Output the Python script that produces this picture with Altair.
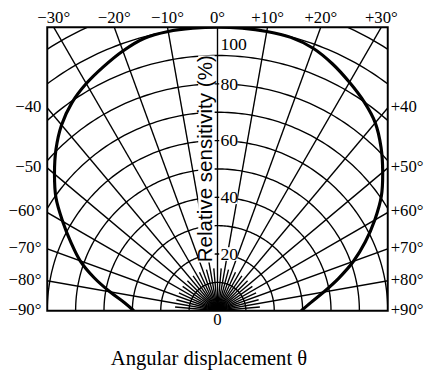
import math
import altair as alt
import pandas as pd

# ---- data ----
angle_deg = [0, 5, 10, 15, 20, 25, 30, 35, 40, 45, 50, 55, 60, 65, 70, 75, 80, 85, 90]
sens_right = [100, 100, 100, 99.8, 98.5, 96, 93, 90, 86.5, 81.5, 76, 70.5, 64, 57.5, 51, 44.2, 38, 33, 29.5]
sens_left = [100, 100, 100, 99.5, 97.5, 95, 92.5, 89.5, 85.5, 80.5, 75, 69.5, 63, 57, 51.5, 45, 38.5, 33, 29.5]

circle_radii = [10, 20, 30, 40, 50, 60, 70, 80, 90, 100, 110]
spoke_angles = list(range(-90, 91, 10))
minor_spoke_angles = list(range(-85, 90, 10))

top_angles = [-30, -20, -10, 0, 10, 20, 30]
top_text = ["−30°", "−20°", "−10°", "0°", "+10°", "+20°", "+30°"]
left_angles = [40, 50, 60, 70, 80, 90]
left_text = ["−40", "−50", "−60°", "−70°", "−80°", "−90°"]
right_text = ["+40", "+50°", "+60°", "+70°", "+80°", "+90°"]

inner_vals = [20, 40, 60, 80, 100]
inner_pos = [20, 40, 60, 80, 94]
inner_text = ["20", "40", "60", "80", "100"]

XMAX = 60
YMAX = 100

# ---- build tables ----
rows = []
gid = 0
for r in circle_radii:
    for i, a in enumerate(range(-90, 91)):
        t = math.radians(a)
        rows.append({"g": gid, "o": i, "x": r * math.sin(t), "y": r * math.cos(t)})
    gid += 1
for a in spoke_angles:
    t = math.radians(a)
    for i, r in enumerate([0, 140]):
        rows.append({"g": gid, "o": i, "x": r * math.sin(t), "y": r * math.cos(t)})
    gid += 1
for a in minor_spoke_angles:
    t = math.radians(a)
    for i, r in enumerate([0, 15]):
        rows.append({"g": gid, "o": i, "x": r * math.sin(t), "y": r * math.cos(t)})
    gid += 1
grid = pd.DataFrame(rows)

crow = []
k = 0
for a, s in zip(reversed(angle_deg), reversed(sens_left)):
    t = math.radians(-a)
    crow.append({"o": k, "x": s * math.sin(t), "y": s * math.cos(t)})
    k += 1
for a, s in zip(angle_deg[1:], sens_right[1:]):
    t = math.radians(a)
    crow.append({"o": k, "x": s * math.sin(t), "y": s * math.cos(t)})
    k += 1
curve = pd.DataFrame(crow)

top_df = pd.DataFrame({"x": [YMAX * math.tan(math.radians(a)) for a in top_angles],
                       "y": [YMAX] * len(top_angles), "t": top_text})
left_df = pd.DataFrame({"x": [-XMAX] * len(left_angles),
                        "y": [XMAX / math.tan(math.radians(a)) for a in left_angles],
                        "t": left_text})
right_df = pd.DataFrame({"x": [XMAX] * len(left_angles),
                         "y": [XMAX / math.tan(math.radians(a)) for a in left_angles],
                         "t": right_text})
inner_df = pd.DataFrame({"x": [0] * len(inner_vals), "y": inner_pos, "t": inner_text})
box_df = pd.DataFrame({"x": [0.6] * 4, "x2": [7.0] * 4,
                       "y": [v - 2.4 for v in inner_vals[:4]],
                       "y2": [v + 2.4 for v in inner_vals[:4]]})
zero_df = pd.DataFrame({"x": [0], "y": [0], "t": ["0"]})
ytitle_df = pd.DataFrame({"x": [-4.0], "y": [53.6], "t": ["Relative sensitivity (%)"]})
ytbox_df = pd.DataFrame({"x": [-6.8], "x2": [-1.0], "y": [17.0], "y2": [90.0]})
xtitle_df = pd.DataFrame({"x": [-3.0], "y": [-17.0], "t": ["Angular displacement θ"]})

xs = alt.Scale(domain=[-XMAX, XMAX], nice=False, zero=False)
ys = alt.Scale(domain=[0, YMAX], nice=False, zero=False)
X = alt.X("x:Q", scale=xs, axis=None)
Y = alt.Y("y:Q", scale=ys, axis=None)

serif = "Liberation Serif"

grid_layer = alt.Chart(grid).mark_line(color="black", strokeWidth=1.4, clip=True).encode(
    x=X, y=Y, detail="g:N", order="o:Q")
curve_layer = alt.Chart(curve).mark_line(color="black", strokeWidth=3.2, clip=True,
                                         interpolate="catmull-rom").encode(
    x=X, y=Y, order="o:Q")
box_layer = alt.Chart(box_df).mark_rect(color="white").encode(
    x=X, x2="x2:Q", y=Y, y2="y2:Q")
ytbox_layer = alt.Chart(ytbox_df).mark_rect(color="white").encode(
    x=X, x2="x2:Q", y=Y, y2="y2:Q")
inner_layer = alt.Chart(inner_df).mark_text(font=serif, fontSize=18, align="left",
                                            baseline="middle", dx=3, dy=1, color="black").encode(
    x=X, y=Y, text="t:N")
top_layer = alt.Chart(top_df).mark_text(font=serif, fontSize=17, align="center",
                                        baseline="bottom", dy=0, color="black").encode(
    x=X, y=Y, text="t:N")
left_layer = alt.Chart(left_df).mark_text(font=serif, fontSize=17, align="right",
                                          baseline="middle", dx=-6, dy=-1, color="black").encode(
    x=X, y=Y, text="t:N")
right_layer = alt.Chart(right_df).mark_text(font=serif, fontSize=17, align="left",
                                            baseline="middle", dx=3, dy=-1, color="black").encode(
    x=X, y=Y, text="t:N")
zero_layer = alt.Chart(zero_df).mark_text(font=serif, fontSize=17, align="center",
                                          baseline="top", dy=2, color="black").encode(
    x=X, y=Y, text="t:N")
ytitle_layer = alt.Chart(ytitle_df).mark_text(font="Liberation Sans", fontSize=21, angle=270,
                                              align="center", baseline="middle",
                                              color="black").encode(
    x=X, y=Y, text="t:N")
xtitle_layer = alt.Chart(xtitle_df).mark_text(font=serif, fontSize=21, align="center",
                                              baseline="middle", color="black").encode(
    x=X, y=Y, text="t:N")

chart = alt.layer(
    grid_layer, curve_layer, box_layer, ytbox_layer, inner_layer, top_layer,
    left_layer, right_layer, zero_layer, ytitle_layer, xtitle_layer
).properties(
    width=347, height=289,
    autosize=alt.AutoSizeParams(type="none"),
    padding={"left": 40, "top": 16, "right": 40, "bottom": 64},
    background="white",
).configure_view(stroke="black", strokeWidth=2)

chart.save("out.html", embed_options={"renderer": "svg", "actions": False})
